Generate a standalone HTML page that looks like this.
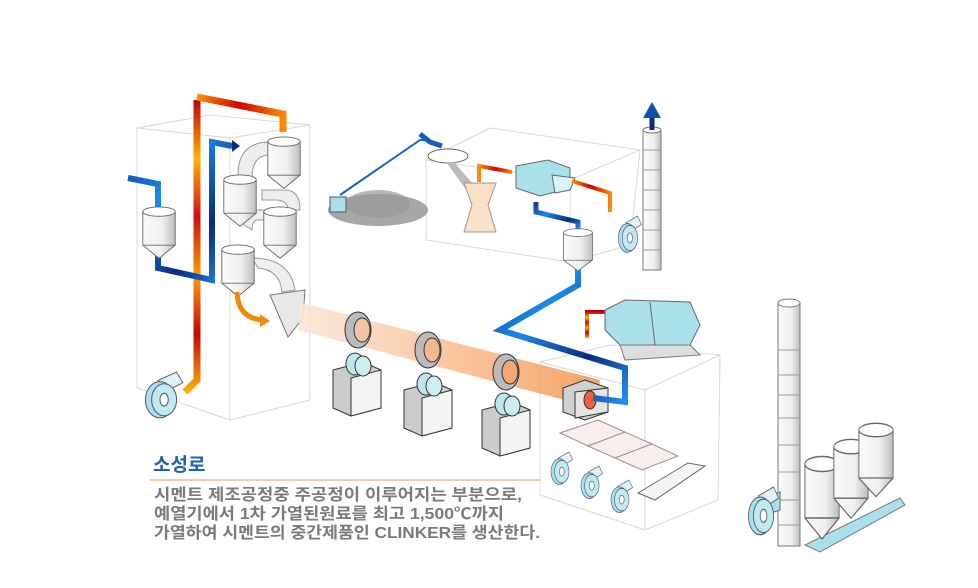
<!DOCTYPE html>
<html><head><meta charset="utf-8"><style>
html,body{margin:0;padding:0;background:#fff;}
svg{display:block}
</style></head><body>
<svg width="978" height="588" viewBox="0 0 978 588" xmlns="http://www.w3.org/2000/svg">
<defs>
<linearGradient id="fire" x1="0" y1="0" x2="0" y2="1">
<stop offset="0" stop-color="#c00000"/><stop offset=".2" stop-color="#ffb400"/><stop offset=".4" stop-color="#d01010"/><stop offset=".6" stop-color="#ff9c00"/><stop offset=".8" stop-color="#c80808"/><stop offset="1" stop-color="#ffb000"/>
</linearGradient>
<linearGradient id="fireh" x1="0" y1="0" x2="1" y2="0">
<stop offset="0" stop-color="#ff9000"/><stop offset=".5" stop-color="#d00000"/><stop offset="1" stop-color="#ff8800"/>
</linearGradient>
<linearGradient id="blue" x1="0" y1="0" x2="1" y2="1">
<stop offset="0" stop-color="#0a3a9a"/><stop offset=".35" stop-color="#1a8ae8"/><stop offset=".7" stop-color="#0a2a80"/><stop offset="1" stop-color="#2090f0"/>
</linearGradient>
<linearGradient id="cyl" x1="0" y1="0" x2="1" y2="0">
<stop offset="0" stop-color="#fafafa"/><stop offset=".6" stop-color="#f0f0f0"/><stop offset="1" stop-color="#bdbdbd"/>
</linearGradient>
<linearGradient id="kiln" x1="0" y1="0" x2="1" y2="0">
<stop offset="0" stop-color="#fde6d8"/><stop offset=".6" stop-color="#f8b98a"/><stop offset="1" stop-color="#f39a55"/>
</linearGradient>
<symbol id="cyc" viewBox="0 0 40 60" preserveAspectRatio="none" overflow="visible">
<path d="M2 6 V42 L20 56 L38 42 V6 Z" fill="url(#cyl)" stroke="#666" stroke-width="1"/>
<ellipse cx="20" cy="6" rx="18" ry="5" fill="#fff" stroke="#666"/>
<line x1="2" y1="42" x2="38" y2="42" stroke="#666"/>
</symbol>
<symbol id="fan" viewBox="0 0 50 45" preserveAspectRatio="none" overflow="visible">
<path d="M22 8 L40 0 L46 10 L30 18Z" fill="#dff3f6" stroke="#667"/>
<ellipse cx="24" cy="26" rx="14" ry="17" fill="#a8e0ea" stroke="#557"/>
<ellipse cx="28" cy="26" rx="12" ry="15" fill="#bfeaf0" stroke="#557"/>
<ellipse cx="28" cy="26" rx="4" ry="6" fill="#fff" stroke="#557"/>
</symbol>
</defs>

<g fill="none" stroke="#d8d8d8" stroke-width="1">
<path d="M137 128 L230 138 L230 420 L137 388 Z M137 128 L210 115 L310 125 L230 138 M310 125 L310 400 L230 420"/>
<path d="M426 160 L490 128 L640 150 L630 245 L570 262 L426 240 Z M570 262 L570 180 L426 160 M570 180 L640 150"/>
<path d="M540 362 L610 345 L720 355 L718 500 L645 530 L540 495 Z M540 362 L645 390 L645 530 M645 390 L720 355"/>
</g>

<path d="M197 100 V380 L185 392" fill="none" stroke="url(#fire)" stroke-width="7"/>
<path d="M197 97 L283 114 V132" fill="none" stroke="url(#fireh)" stroke-width="7"/>
<path d="M128 178 L158 184 V268 L212 280 V142 L232 146" fill="none" stroke="url(#blue)" stroke-width="6"/>
<path d="M232 140 L240 146 L232 152Z" fill="#0a2a80"/>

<g fill="#eeeeee" stroke="#999" stroke-width="1">
<path d="M238 175 Q238 142 270 142 L285 142 L285 155 L270 155 Q252 155 252 178Z"/>
<path d="M262 190 L285 190 Q300 190 300 210 L288 210 Q288 200 275 200 L262 200Z"/>
<path d="M240 222 Q240 210 255 210 L275 210 L275 220 L258 220 Q252 220 252 230Z"/>
<path d="M252 258 Q290 258 295 290 L282 292 Q280 270 258 268Z"/>
</g>
<use href="#cyc" x="266" y="136" width="36" height="56"/>
<use href="#cyc" x="222" y="174" width="36" height="56"/>
<use href="#cyc" x="262" y="206" width="36" height="56"/>
<use href="#cyc" x="220" y="244" width="36" height="56"/>
<use href="#cyc" x="141" y="206" width="36" height="56"/>
<path d="M237 292 Q238 318 262 320" fill="none" stroke="#f08a00" stroke-width="5"/>
<path d="M260 314 L270 321 L260 327Z" fill="#f08a00"/>
<path d="M270 295 L305 290 L303 318 L288 337 Z" fill="#e8e8e8" stroke="#777"/>
<path d="M302 303 L600 380 L595 408 L298 330 Z" fill="url(#kiln)" opacity=".9"/>
<g stroke="#333" stroke-width="1">
<g transform="translate(333,362)"><path d="M0 8 L30 0 L48 8 L48 46 L18 54 L0 46Z" fill="#ccc"/><path d="M18 16 L48 8 L48 46 L18 54Z" fill="#f4f4f4"/><ellipse cx="22" cy="2" rx="9" ry="11" fill="#bfe6ee"/><ellipse cx="30" cy="4" rx="8" ry="10" fill="#cdeef2"/></g>
<g transform="translate(404,382)"><path d="M0 8 L30 0 L48 8 L48 46 L18 54 L0 46Z" fill="#ccc"/><path d="M18 16 L48 8 L48 46 L18 54Z" fill="#f4f4f4"/><ellipse cx="22" cy="2" rx="9" ry="11" fill="#bfe6ee"/><ellipse cx="30" cy="4" rx="8" ry="10" fill="#cdeef2"/></g>
<g transform="translate(482,402)"><path d="M0 8 L30 0 L48 8 L48 46 L18 54 L0 46Z" fill="#ccc"/><path d="M18 16 L48 8 L48 46 L18 54Z" fill="#f4f4f4"/><ellipse cx="22" cy="2" rx="9" ry="11" fill="#bfe6ee"/><ellipse cx="30" cy="4" rx="8" ry="10" fill="#cdeef2"/></g>
<ellipse cx="358" cy="330" rx="13" ry="18" fill="#bbb"/><ellipse cx="362" cy="330" rx="8" ry="12" fill="#f2c6a4"/>
<ellipse cx="428" cy="350" rx="13" ry="18" fill="#bbb"/><ellipse cx="432" cy="350" rx="8" ry="12" fill="#f2b890"/>
<ellipse cx="506" cy="372" rx="13" ry="18" fill="#bbb"/><ellipse cx="510" cy="372" rx="8" ry="12" fill="#f3a870"/>
</g>
<path d="M563 388 L585 380 L608 388 L608 412 L585 420 L563 412Z" fill="#d0d0d0" stroke="#333"/>
<path d="M575 392 L608 388 L608 412 L575 418Z" fill="#e4e4e4" stroke="#333"/>
<ellipse cx="590" cy="400" rx="6" ry="9" fill="#f06040" stroke="#333"/>
<path d="M578 258 V285 L500 330 L625 368 V402 L593 398" fill="none" stroke="url(#blue)" stroke-width="6"/>
<g stroke="#a88" fill="#f8eeee">
<path d="M560 433 L598 420 L625 432 L588 446Z"/><path d="M588 446 L625 432 L652 444 L615 458Z"/><path d="M615 458 L652 444 L678 456 L642 470Z"/>
</g>
<path d="M638 493 L688 463 L705 466 L655 500Z" fill="#f5f5f5" stroke="#666"/>
<use href="#fan" x="545" y="452" width="30" height="34"/>
<use href="#fan" x="575" y="466" width="30" height="34"/>
<use href="#fan" x="605" y="480" width="30" height="34"/>
<use href="#fan" x="135" y="372" width="52" height="48"/>

<ellipse cx="378" cy="210" rx="50" ry="16" fill="#8a8a8a" opacity=".75"/>
<ellipse cx="378" cy="204" rx="32" ry="14" fill="#999" opacity=".7"/>
<rect x="330" y="197" width="16" height="15" fill="#a9dfe8" stroke="#556"/>
<path d="M340 195 L420 140 L430 140" fill="none" stroke="url(#blue)" stroke-width="2"/>
<path d="M420 134 L430 142 L442 146" fill="none" stroke="#1060c0" stroke-width="5"/>
<ellipse cx="448" cy="156" rx="20" ry="7" fill="#fff" stroke="#666"/>
<path d="M446 162 L470 195 L478 190 L454 162Z" fill="#bbb"/>
<path d="M464 183 L496 183 L488 205 L496 232 L464 232 L472 205Z" fill="#fbe0c8" stroke="#999"/>
<path d="M479 182 V166 L512 172" fill="none" stroke="url(#fireh)" stroke-width="4"/>
<path d="M516 166 L548 160 L570 168 L570 188 L540 196 L516 188Z" fill="#a9e0ea" stroke="#667"/>
<path d="M552 175 L575 178 L570 190 L555 193Z" fill="#d8f3f6" stroke="#667"/>
<path d="M572 181 L610 193 V212" fill="none" stroke="url(#fireh)" stroke-width="4"/>
<path d="M536 202 V212 L578 222 V230" fill="none" stroke="url(#blue)" stroke-width="5"/>
<use href="#cyc" x="562" y="228" width="32" height="46"/>
<rect x="643" y="130" width="18" height="140" fill="url(#cyl)" stroke="#777"/>
<g stroke="#999"><line x1="643" y1="150" x2="661" y2="150"/><line x1="643" y1="170" x2="661" y2="170"/><line x1="643" y1="190" x2="661" y2="190"/><line x1="643" y1="210" x2="661" y2="210"/><line x1="643" y1="230" x2="661" y2="230"/><line x1="643" y1="250" x2="661" y2="250"/></g>
<ellipse cx="652" cy="130" rx="9" ry="3" fill="#fff" stroke="#777"/>
<path d="M652 130 V116" stroke="#0a2a80" stroke-width="5"/>
<path d="M643 118 L652 102 L661 118Z" fill="#1050b0"/>
<use href="#fan" x="612" y="216" width="32" height="38"/>
<path d="M587 338 V312 L605 312" fill="none" stroke="url(#fire)" stroke-width="4"/>
<path d="M605 310 L625 300 L690 302 L700 325 L690 345 L620 345 L605 330Z" fill="#a9e0ea" stroke="#667"/>
<path d="M620 345 L690 345 L700 355 L625 360Z" fill="#ddd" stroke="#777"/>
<line x1="650" y1="302" x2="655" y2="345" stroke="#667"/>
<rect x="778" y="303" width="22" height="243" fill="url(#cyl)" stroke="#777"/>
<g stroke="#999"><line x1="778" y1="350" x2="800" y2="350"/><line x1="778" y1="375" x2="800" y2="375"/><line x1="778" y1="395" x2="800" y2="395"/><line x1="778" y1="418" x2="800" y2="418"/><line x1="778" y1="445" x2="800" y2="445"/><line x1="778" y1="472" x2="800" y2="472"/><line x1="778" y1="500" x2="800" y2="500"/><line x1="778" y1="525" x2="800" y2="525"/></g>
<ellipse cx="789" cy="303" rx="11" ry="4" fill="#fff" stroke="#777"/>
<path d="M805 545 L900 498 L905 505 L820 552Z" fill="#a9e0ea" stroke="#778"/>
<use href="#cyc" x="803" y="455" width="38" height="90"/>
<use href="#cyc" x="832" y="438" width="38" height="86"/>
<use href="#cyc" x="857" y="422" width="38" height="80"/>
<path d="M760 500 L780 492 L780 510 L765 515Z" fill="#a9e0ea" stroke="#667"/>
<use href="#fan" x="740" y="487" width="42" height="50"/>

<text x="153" y="471" font-family="'Liberation Sans','Noto Sans CJK KR',sans-serif" font-size="19" font-weight="bold" fill="#1a5fb8">소성로</text>
<line x1="150" y1="480" x2="540" y2="480" stroke="#f0b890" stroke-width="1.5"/>
<g font-family="'Liberation Sans','Noto Sans CJK KR',sans-serif" font-size="16" font-weight="bold" fill="#7a7a7a" lengthAdjust="spacingAndGlyphs">
<text x="154" y="500" textLength="368" lengthAdjust="spacingAndGlyphs">시멘트 제조공정중 주공정이 이루어지는 부분으로,</text>
<text x="154" y="519" textLength="350" lengthAdjust="spacingAndGlyphs">예열기에서 1차 가열된원료를 최고 1,500℃까지</text>
<text x="154" y="538" textLength="386" lengthAdjust="spacingAndGlyphs">가열하여 시멘트의 중간제품인 CLINKER를 생산한다.</text>
</g>
</svg>
</body></html>
